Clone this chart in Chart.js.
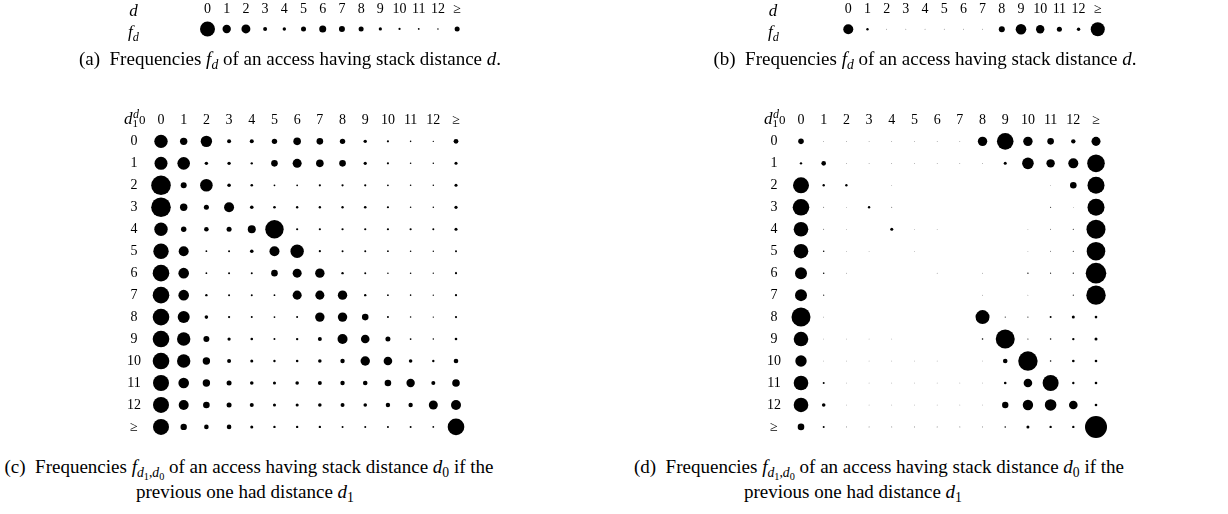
<!DOCTYPE html>
<html>
<head>
<meta charset="utf-8">
<script src="https://cdn.jsdelivr.net/npm/chart.js@4.4.0/dist/chart.umd.min.js"></script>
<style>
  body { margin: 0; width: 1228px; height: 514px; position: relative; overflow: hidden; background: #fff; font-family: 'Liberation Serif', serif; color: #000; }
  canvas { position: absolute; }
  .t { position: absolute; white-space: nowrap; line-height: 1; transform: translate(-50%, -50%); }
  .m { font-size: 17px; }
  .cap { font-size: 19px; }
  .sb { font-size: 72%; position: relative; top: 0.3em; }
  .sb2 { font-size: 75%; position: relative; top: 0.25em; }
  .corner { position: absolute; font-size: 17px; white-space: nowrap; line-height: 1; }
  .corner .s1 { font-size: 11px; position: relative; top: 3px; }
  .corner .sp { font-size: 12px; position: relative; top: -6px; margin-left: -5px; }
  .corner .s0 { font-size: 13px; position: relative; top: 6px; }
</style>
</head>
<body>
<canvas id="pa"></canvas>
<canvas id="pb"></canvas>
<canvas id="pc"></canvas>
<canvas id="pd"></canvas>

<div class="t m" style="left:133.5px;top:9.5px"><i>d</i></div>
<div class="t m" style="left:133.5px;top:31px"><i>f</i><span class="sb"><i>d</i></span></div>
<div class="t m" style="left:773px;top:9.5px"><i>d</i></div>
<div class="t m" style="left:773.5px;top:31px"><i>f</i><span class="sb"><i>d</i></span></div>

<div class="corner" style="left:124px;top:110px"><i>d</i><span class="s1">1</span><span class="sp"><i>d</i><span class="s0">0</span></span></div>
<div class="corner" style="left:764px;top:110px"><i>d</i><span class="s1">1</span><span class="sp"><i>d</i><span class="s0">0</span></span></div>

<div class="t cap" style="left:290px;top:58px">(a)&nbsp; Frequencies <i>f</i><span class="sb"><i>d</i></span> of an access having stack distance <i>d</i>.</div>
<div class="t cap" style="left:925px;top:58px">(b)&nbsp; Frequencies <i>f</i><span class="sb"><i>d</i></span> of an access having stack distance <i>d</i>.</div>
<div class="t cap" style="left:249px;top:466px">(c)&nbsp; Frequencies <i>f</i><span class="sb"><i>d</i><span class="sb2">1</span>,<i>d</i><span class="sb2">0</span></span> of an access having stack distance <i>d</i><span class="sb">0</span> if the</div>
<div class="t cap" style="left:245px;top:491px">previous one had distance <i>d</i><span class="sb">1</span></div>
<div class="t cap" style="left:879px;top:466px">(d)&nbsp; Frequencies <i>f</i><span class="sb"><i>d</i><span class="sb2">1</span>,<i>d</i><span class="sb2">0</span></span> of an access having stack distance <i>d</i><span class="sb">0</span> if the</div>
<div class="t cap" style="left:853px;top:491px">previous one had distance <i>d</i><span class="sb">1</span></div>

<script>
// stack distances 0..12 and "12 or more"
const colLabels = ['0', '1', '2', '3', '4', '5', '6', '7', '8', '9', '10', '11', '12', '≥'];
const rowLabels = ['0', '1', '2', '3', '4', '5', '6', '7', '8', '9', '10', '11', '12', '≥'];

// f_d, relative weights (dot area)
const freqA = [56, 17.6, 20, 4, 2.9, 6.3, 12.3, 9, 6.3, 2.6, 1.2, 0.8, 0.6, 6.3];
const freqB = [25, 1.4, 0.12, 0.12, 0.12, 0.12, 0.12, 0.12, 9, 28, 17.6, 6.3, 2.9, 49];

// f_{d1,d0}: one row per previous distance d1, one column per d0
const freqC = [
  [44.9, 13.7, 32.5, 4, 4, 7.3, 14.4, 10.9, 7.3, 2.9, 1.2, 0.6, 0.5, 5.8],
  [42.3, 39.7, 2.9, 2.9, 1.4, 10.9, 20.3, 14.4, 10.9, 2.6, 1.2, 0.6, 0.6, 2.3],
  [96, 9, 39.7, 3.2, 1.7, 0.8, 0.8, 1.2, 1.2, 1.2, 0.8, 0.6, 0.6, 2.3],
  [96, 13.7, 6.3, 25, 3.2, 1.7, 1.4, 1.4, 1.4, 1.7, 1.2, 0.6, 0.6, 2.6],
  [44.9, 7.3, 5.3, 6.3, 16, 84.6, 1.2, 1.2, 1.2, 1.2, 1.2, 1.2, 1, 2.3],
  [59.3, 25, 0.8, 1, 3.2, 25, 44.9, 1.2, 1, 1, 0.8, 0.6, 0.5, 1],
  [68.9, 28.1, 0.8, 1, 1, 10.9, 20.3, 22.1, 1.4, 1, 0.6, 0.6, 0.5, 1.2],
  [68.9, 28.1, 1.4, 1, 1, 0.8, 20.3, 20.3, 22.1, 1.4, 0.8, 0.6, 0.5, 1.2],
  [68.9, 36, 3.2, 1.2, 1, 0.8, 1, 22.1, 22.1, 10.9, 1, 0.6, 0.5, 1.2],
  [68.9, 44.9, 9, 2.6, 1.7, 1, 1.4, 4, 25, 18.5, 6.3, 0.8, 0.6, 1.7],
  [68.9, 44.9, 13.7, 4, 2.3, 1.4, 1.7, 3.2, 4.8, 22.1, 18.5, 3.2, 1.4, 5.3],
  [64, 28.1, 13.7, 6.3, 3.2, 2.3, 3.2, 4, 4.8, 5.3, 10.9, 17.6, 4, 14.4],
  [64, 25, 10.9, 6.3, 4, 2.3, 2.3, 3.2, 4, 3.2, 4.8, 4.8, 20.3, 25],
  [64, 10.2, 5.3, 5.3, 2.3, 1.4, 1.4, 1.4, 1, 1, 1, 1, 0.8, 68.9]
];
const freqD = [
  [7.8, 0.1, 0.1, 0.1, 0.1, 0.1, 0.1, 0.1, 22.1, 68.9, 22.1, 10.9, 4.8, 20.3],
  [1.4, 5.3, 0.1, 0.1, 0.1, 0.1, 0.1, 0.1, 0.1, 2.3, 33.6, 17.6, 25, 77.4],
  [64, 1.4, 1.4, 0, 0.1, 0, 0, 0, 0, 0, 0, 0.1, 10.9, 72.3],
  [68.9, 0.2, 0.1, 1.4, 0.2, 0, 0, 0, 0, 0, 0, 0.3, 0.1, 72.3],
  [53.3, 0.2, 0.1, 0, 2.3, 0.1, 0.1, 0, 0, 0, 0.1, 0.2, 0.3, 90.3],
  [53.3, 0.6, 0.1, 0.1, 0, 0.1, 0, 0, 0, 0, 0.1, 0.2, 0.3, 86.5],
  [36, 0.6, 0.1, 0, 0, 0, 0.1, 0, 0.1, 0, 0.5, 0.3, 0.4, 106],
  [36, 0.3, 0, 0, 0, 0, 0, 0, 0.1, 0, 0.1, 0, 0.3, 94],
  [90.3, 0.1, 0, 0, 0, 0, 0, 0, 49, 0.3, 0.3, 1, 2.3, 1.7],
  [53.3, 0.1, 0.1, 0.1, 0.1, 0, 0, 0, 0.6, 90.3, 0.3, 0.6, 1.4, 2.3],
  [32.5, 0.1, 0.1, 0.1, 0.1, 0.1, 0.1, 0, 0.1, 5.3, 94, 0.6, 1.7, 1.7],
  [53.3, 1, 0.1, 0.1, 0.1, 0.1, 0.1, 0.1, 0.1, 1.7, 18.5, 64, 1.4, 1.7],
  [53.3, 3.2, 0.1, 0.1, 0.1, 0.1, 0.1, 0.1, 0.1, 10.2, 27, 33.6, 18.5, 1.7],
  [10.9, 1, 0.2, 0.2, 0.2, 0.2, 0.2, 0.2, 0.2, 0.6, 2.3, 1.4, 1.4, 121]
];

const tickFont = { family: 'Liberation Serif', size: 14 };

// box: canvas placement; g: pixel centres of first/last column and first row, header row centre
function panel(id, box, g, matrix, rows) {
  const cv = document.getElementById(id);
  cv.width = box.w;
  cv.height = box.h;
  cv.style.left = box.x + 'px';
  cv.style.top = box.y + 'px';

  const nRows = matrix.length;
  const step = (g.xLast - g.x0) / (colLabels.length - 1);
  const rstep = g.rstep;
  const left = g.x0 - step / 2 - box.x;
  const top = g.y0 - rstep / 2 - box.y;
  const right = box.x + box.w - (g.xLast + step / 2);
  const bottom = box.y + box.h - (g.y0 + (nRows - 0.5) * rstep);

  const pts = [];
  matrix.forEach((row, r) => row.forEach((v, c) => {
    if (v > 0) pts.push({ x: c, y: r, r: Math.sqrt(v) });
  }));

  return new Chart(cv, {
    type: 'bubble',
    data: {
      datasets: [{
        data: pts,
        backgroundColor: '#000',
        borderWidth: 0,
        clip: false
      }]
    },
    options: {
      responsive: false,
      animation: false,
      events: [],
      layout: { padding: { left: rows ? 0 : left, top: 0, right: right, bottom: bottom } },
      plugins: { legend: { display: false }, tooltip: { enabled: false } },
      scales: {
        x: {
          type: 'linear',
          position: 'top',
          min: -0.5,
          max: colLabels.length - 0.5,
          grid: { display: false, drawTicks: false },
          border: { display: false },
          afterBuildTicks: s => { s.ticks = colLabels.map((_, i) => ({ value: i })); },
          afterFit: s => { s.height = top; },
          ticks: {
            callback: v => colLabels[v],
            font: tickFont,
            color: '#000',
            padding: top - (g.hy - box.y) - tickFont.size * 0.6,
            maxRotation: 0,
            autoSkip: false
          }
        },
        y: {
          type: 'linear',
          display: !!rows,
          reverse: true,
          min: -0.5,
          max: nRows - 0.5,
          grid: { display: false, drawTicks: false },
          border: { display: false },
          afterBuildTicks: s => { s.ticks = (rows || ['']).map((_, i) => ({ value: i })); },
          afterFit: s => { s.width = left; },
          ticks: {
            callback: v => (rows ? rows[v] : ''),
            font: tickFont,
            color: '#000',
            crossAlign: 'center',
            padding: 8.7,
            autoSkip: false
          }
        }
      }
    }
  });
}

panel('pa', { x: 100, y: 0, w: 380, h: 45 }, { x0: 160.3, xLast: 455.4, y0: 31.7, rstep: 22.6, hy: 9.5 }, [freqA], null);
panel('pb', { x: 740, y: 0, w: 380, h: 45 }, { x0: 800.7, xLast: 1096, y0: 31.7, rstep: 22.6, hy: 9.5 }, [freqB], null);
panel('pc', { x: 100, y: 95, w: 380, h: 360 }, { x0: 161, xLast: 456, y0: 141.7, rstep: 22.615, hy: 120 }, freqC, rowLabels);
panel('pd', { x: 740, y: 95, w: 380, h: 360 }, { x0: 801, xLast: 1096, y0: 141.7, rstep: 22.615, hy: 120 }, freqD, rowLabels);
</script>
</body>
</html>
